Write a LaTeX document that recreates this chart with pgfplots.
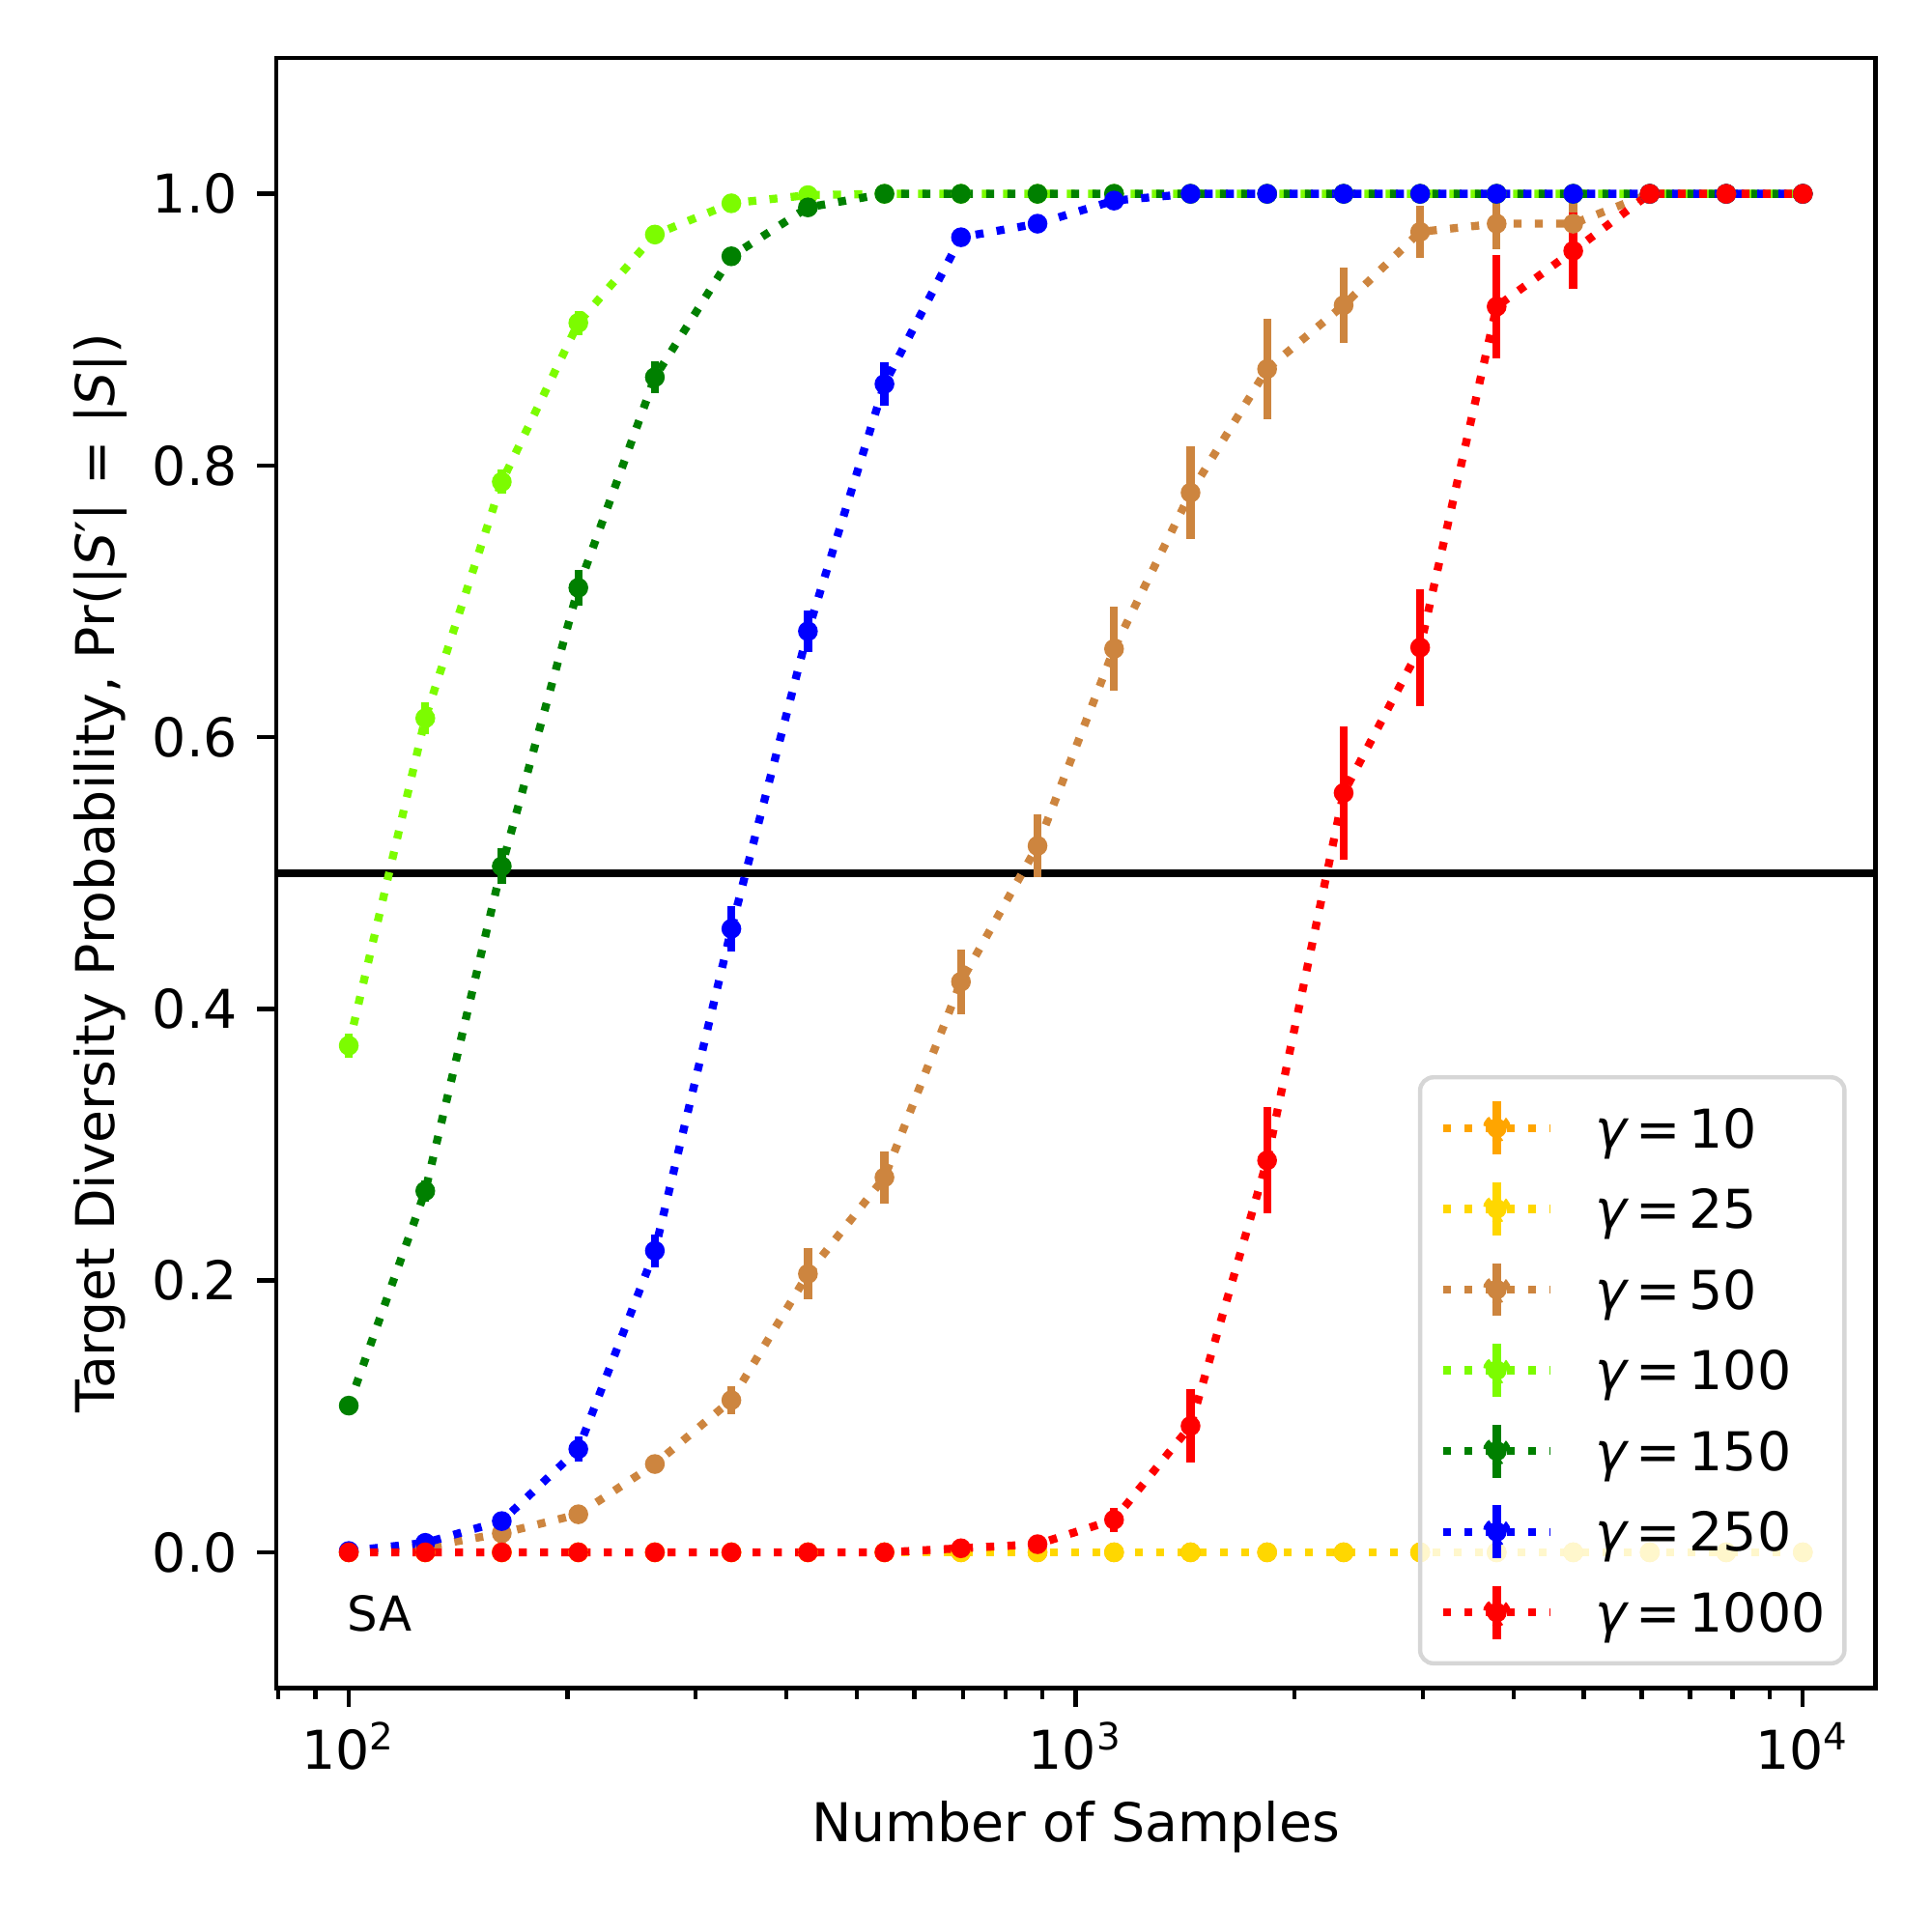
\documentclass[border=0pt]{standalone}
\usepackage{fontspec}
\setmainfont{DejaVu Sans}
\usepackage{pgfplots}
\usepackage{pgfplotstable}
\pgfplotsset{compat=1.18}

\definecolor{corange}{HTML}{FFA500}
\definecolor{cgold}{HTML}{FFD700}
\definecolor{cperu}{HTML}{CD853F}
\definecolor{clawn}{HTML}{7CFC00}
\definecolor{cgreen}{HTML}{008000}
\definecolor{cblue}{HTML}{0000FF}
\definecolor{cred}{HTML}{FF0000}

% x, y, error
\pgfplotstableread{
x y e
100 0 0
127.43 0 0
162.38 0 0
206.91 0 0
263.67 0 0
335.98 0 0
428.13 0 0
545.56 0 0
695.19 0 0
885.87 0 0
1128.84 0 0
1438.45 0 0
1832.98 0 0
2335.72 0 0
2976.35 0 0
3792.69 0 0
4832.93 0 0
6158.48 0 0
7847.60 0 0
10000 0 0
}\gTen
\pgfplotstableread{
x y e
100 0 0
127.43 0 0
162.38 0 0
206.91 0 0
263.67 0 0
335.98 0 0
428.13 0 0
545.56 0 0
695.19 0 0
885.87 0 0
1128.84 0 0
1438.45 0 0
1832.98 0 0
2335.72 0 0
2976.35 0 0
3792.69 0 0
4832.93 0 0
6158.48 0 0
7847.60 0 0
10000 0 0
}\gTwentyFive
\pgfplotstableread{
x y e
100 0.000 0.000
127.43 0.004 0.002
162.38 0.014 0.005
206.91 0.028 0.006
263.67 0.065 0.007
335.98 0.112 0.010
428.13 0.205 0.019
545.56 0.276 0.019
695.19 0.420 0.024
885.87 0.520 0.023
1128.84 0.665 0.031
1438.45 0.780 0.034
1832.98 0.871 0.037
2335.72 0.918 0.028
2976.35 0.972 0.019
3792.69 0.978 0.019
4832.93 0.978 0.015
6158.48 1.000 0.000
7847.60 1.000 0.000
10000 1.000 0.000
}\gFifty
\pgfplotstableread{
x y e
100 0.373 0.009
127.43 0.614 0.012
162.38 0.788 0.009
206.91 0.905 0.009
263.67 0.970 0.005
335.98 0.993 0.003
428.13 0.999 0.002
545.56 1.000 0.000
695.19 1.000 0.000
885.87 1.000 0.000
1128.84 1.000 0.000
1438.45 1.000 0.000
1832.98 1.000 0.000
2335.72 1.000 0.000
2976.35 1.000 0.000
3792.69 1.000 0.000
4832.93 1.000 0.000
6158.48 1.000 0.000
7847.60 1.000 0.000
10000 1.000 0.000
}\gHundred
\pgfplotstableread{
x y e
100 0.108 0.005
127.43 0.266 0.008
162.38 0.505 0.013
206.91 0.710 0.013
263.67 0.865 0.012
335.98 0.954 0.006
428.13 0.990 0.003
545.56 1.000 0.000
695.19 1.000 0.000
885.87 1.000 0.000
1128.84 1.000 0.000
1438.45 1.000 0.000
1832.98 1.000 0.000
2335.72 1.000 0.000
2976.35 1.000 0.000
3792.69 1.000 0.000
4832.93 1.000 0.000
6158.48 1.000 0.000
7847.60 1.000 0.000
10000 1.000 0.000
}\gOneFifty
\pgfplotstableread{
x y e
100 0.001 0.001
127.43 0.007 0.002
162.38 0.023 0.005
206.91 0.076 0.009
263.67 0.222 0.012
335.98 0.459 0.017
428.13 0.678 0.015
545.56 0.860 0.016
695.19 0.968 0.006
885.87 0.978 0.005
1128.84 0.995 0.003
1438.45 1.000 0.000
1832.98 1.000 0.000
2335.72 1.000 0.000
2976.35 1.000 0.000
3792.69 1.000 0.000
4832.93 1.000 0.000
6158.48 1.000 0.000
7847.60 1.000 0.000
10000 1.000 0.000
}\gTwoFifty
\pgfplotstableread{
x y e
100 0.000 0.000
127.43 0.000 0.000
162.38 0.000 0.000
206.91 0.000 0.000
263.67 0.000 0.000
335.98 0.000 0.000
428.13 0.000 0.000
545.56 0.000 0.000
695.19 0.003 0.003
885.87 0.006 0.004
1128.84 0.024 0.009
1438.45 0.093 0.027
1832.98 0.2885 0.039
2335.72 0.559 0.049
2976.35 0.666 0.043
3792.69 0.917 0.038
4832.93 0.958 0.028
6158.48 1.000 0.000
7847.60 1.000 0.000
10000 1.000 0.000
}\gThousand

\tikzset{dotline/.style={line width=1.5pt, dash pattern=on 1.5pt off 2.475pt, line cap=butt}}
\pgfplotsset{
  errpass/.style={draw=none, mark=none, forget plot,
    error bars/.cd, y dir=both, y explicit, error mark=none,
    error bar style={draw=#1, solid, line width=1.5pt, line cap=butt}},
  linepass/.style={draw=#1, dotline, mark=*, mark size=1.6pt,
    mark options={solid, fill=#1, draw=#1, line width=0.5pt},
    legend image code/.code={
      \draw[draw=#1, dotline] (0pt,0pt) -- (20pt,0pt);
      \draw[draw=#1, solid, line width=1.5pt, line cap=butt] (10pt,-4.95pt) -- (10pt,4.95pt);
      \fill[fill=#1, fill opacity=1] (10pt,0pt) circle (1.85pt);
    }},
}

\begin{document}
\begin{tikzpicture}
\useasboundingbox (0,0) rectangle (361.35pt,361.35pt);
\begin{axis}[
  at={(51.62pt,45.60pt)}, anchor=south west,
  scale only axis, width=299.16pt, height=304.91pt,
  xmode=log, log basis x=10,
  xmin=79.4328, xmax=12589.25, ymin=-0.1, ymax=1.1,
  xtick={100,1000,10000},
  xticklabels={10\textsuperscript{2},10\textsuperscript{3},10\textsuperscript{4}},
  minor xtick={80,90,200,300,400,500,600,700,800,900,2000,3000,4000,5000,6000,7000,8000,9000},
  ytick={0,0.2,0.4,0.6,0.8,1.0},
  yticklabels={0.0,0.2,0.4,0.6,0.8,1.0},
  tick align=outside, xtick pos=left, ytick pos=left,
  major tick length=3.5pt, minor tick length=2pt,
  every tick/.style={black, line width=0.8pt},
  axis line style={line width=0.8pt},
  tick label style={font=\fontsize{10}{12}\selectfont},
  yticklabel style={inner sep=0pt, anchor=east, xshift=-3.5pt},
  xticklabel style={inner sep=0pt, anchor=base, yshift=-11.7pt},
  label style={font=\fontsize{10}{12}\selectfont},
  xlabel={Number of Samples},
  ylabel={Target Diversity Probability, Pr(|\textit{S}′| = |\textit{S}|)},
  xlabel style={at={(axis description cs:0.5,-0.0942)}, anchor=base, inner sep=0pt},
  ylabel style={at={(axis description cs:-0.1011,0.5)}, anchor=base, inner sep=0pt},
  legend style={
    at={(axis description cs:1,0)}, anchor=south east, xshift=-5.4pt, yshift=4.25pt,
    draw=gray!32, line width=0.8pt, rounded corners=2.5pt,
    fill=white, fill opacity=0.8, draw opacity=1, text opacity=1,
    font=\fontsize{10}{12}\selectfont,
    inner xsep=3.6pt, inner ysep=3.8pt, row sep=3.7pt, column sep=7.6pt,
    nodes={inner sep=0pt, text height=8.6pt, text depth=1.3pt},
  },
  legend cell align=left,
  clip=true,
]
% horizontal reference line
\addplot[black, line width=1.5pt, forget plot] coordinates {(60,0.5) (20000,0.5)};

% error bars first (all series)
\addplot[errpass=corange] table[x=x, y=y, y error=e] {\gTen};
\addplot[errpass=cgold] table[x=x, y=y, y error=e] {\gTwentyFive};
\addplot[errpass=cperu] table[x=x, y=y, y error=e] {\gFifty};
\addplot[errpass=clawn] table[x=x, y=y, y error=e] {\gHundred};
\addplot[errpass=cgreen] table[x=x, y=y, y error=e] {\gOneFifty};
\addplot[errpass=cblue] table[x=x, y=y, y error=e] {\gTwoFifty};
\addplot[errpass=cred] table[x=x, y=y, y error=e] {\gThousand};

% lines with markers
\addplot[linepass=corange] table[x=x, y=y] {\gTen};
\addlegendentry{{\itshape γ}\,=\,10}
\addplot[linepass=cgold] table[x=x, y=y] {\gTwentyFive};
\addlegendentry{{\itshape γ}\,=\,25}
\addplot[linepass=cperu] table[x=x, y=y] {\gFifty};
\addlegendentry{{\itshape γ}\,=\,50}
\addplot[linepass=clawn] table[x=x, y=y] {\gHundred};
\addlegendentry{{\itshape γ}\,=\,100}
\addplot[linepass=cgreen] table[x=x, y=y] {\gOneFifty};
\addlegendentry{{\itshape γ}\,=\,150}
\addplot[linepass=cblue] table[x=x, y=y] {\gTwoFifty};
\addlegendentry{{\itshape γ}\,=\,250}
\addplot[linepass=cred] table[x=x, y=y] {\gThousand};
\addlegendentry{{\itshape γ}\,=\,1000}

\node[anchor=base west, inner sep=0pt, font=\fontsize{9}{11}\selectfont] at (axis cs:99.3,-0.058) {SA};
\end{axis}
\end{tikzpicture}
\end{document}
